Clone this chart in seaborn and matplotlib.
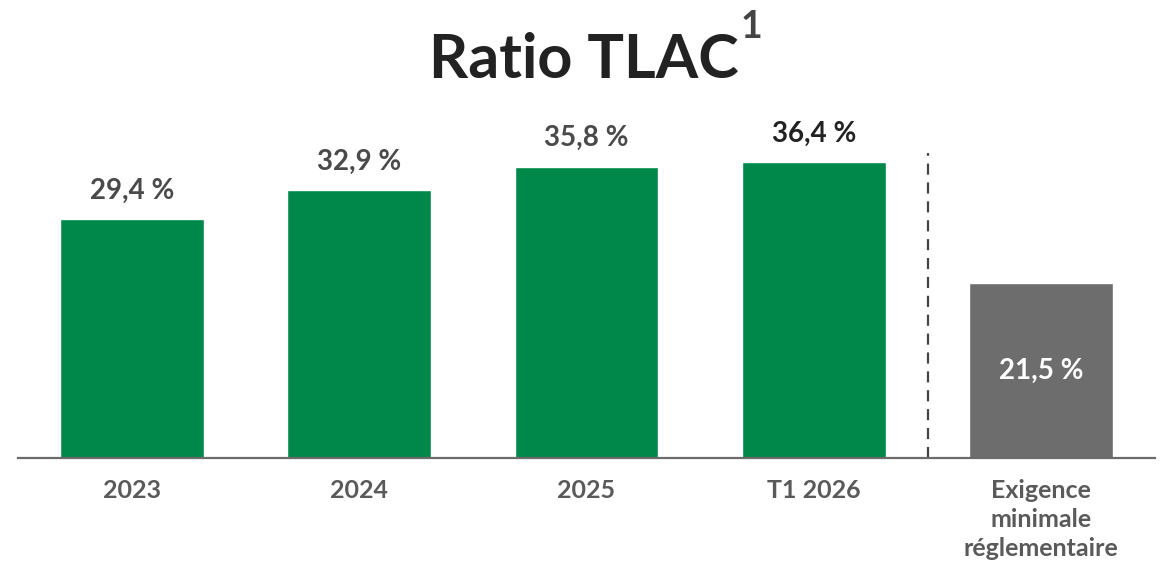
import pandas as pd
import matplotlib.pyplot as plt
import seaborn as sns

# data
categories = ["2023", "2024", "2025", "T1 2026", "Exigence\nminimale\nréglementaire"]
values = [29.4, 32.9, 35.8, 36.4, 21.5]
value_labels = ["29,4 %", "32,9 %", "35,8 %", "36,4 %", "21,5 %"]
bar_colors = ["#00884B", "#00884B", "#00884B", "#00884B", "#6D6D6D"]
label_colors = ["#4a4a4a", "#4a4a4a", "#4a4a4a", "#222222", "white"]

df = pd.DataFrame({"cat": categories, "val": values})

sns.set_theme(style="white")
plt.rcParams["font.family"] = ["Lato", "DejaVu Sans"]

fig = plt.figure(figsize=(11.62, 5.68), dpi=100)
ax = fig.add_axes([18 / 1162, 110 / 568, 1137 / 1162, (458 - 132.4) / 568])

sns.barplot(data=df, x="cat", y="val", hue="cat", palette=bar_colors,
            width=0.633, legend=False, ax=ax, saturation=1)

ax.set_xlim(-0.5, 4.5)
ax.set_ylim(0, 40)

# value labels: above for the green bars, inside for the requirement bar
for i, patch in enumerate(ax.patches):
    x = patch.get_x() + patch.get_width() / 2
    h = patch.get_height()
    if i < 4:
        ax.annotate(value_labels[i], (x, h), xytext=(0, 11), textcoords="offset points",
                    ha="center", va="bottom", fontsize=20, fontweight="bold",
                    color=label_colors[i])
    else:
        ax.text(x, h / 2, value_labels[i], ha="center", va="center",
                fontsize=20, fontweight="bold", color=label_colors[i])

# separator between actuals and the requirement
ax.plot([3.5, 3.5], [0, 37.5], color="#444444", linewidth=1.6,
        linestyle=(0, (5, 3.5)))

sns.despine(ax=ax, left=True)
ax.spines["bottom"].set_color("#6b6b6b")
ax.spines["bottom"].set_linewidth(1.6)
ax.set_yticks([])
ax.set_xlabel("")
ax.set_ylabel("")
ax.tick_params(axis="x", length=0, pad=15)
for lbl in ax.get_xticklabels():
    lbl.set_fontsize(18)
    lbl.set_fontweight("bold")
    lbl.set_color("#5a5a5a")
    lbl.set_linespacing(1.32)

fig.text(0.5026, 0.895, "Ratio TLAC", ha="center", va="center",
         fontsize=44, fontweight="bold", color="#222222")
fig.text(0.647, 0.953, "1", ha="center", va="center",
         fontsize=27, fontweight="bold", color="#444444")

fig.savefig("out.png", dpi=100)
